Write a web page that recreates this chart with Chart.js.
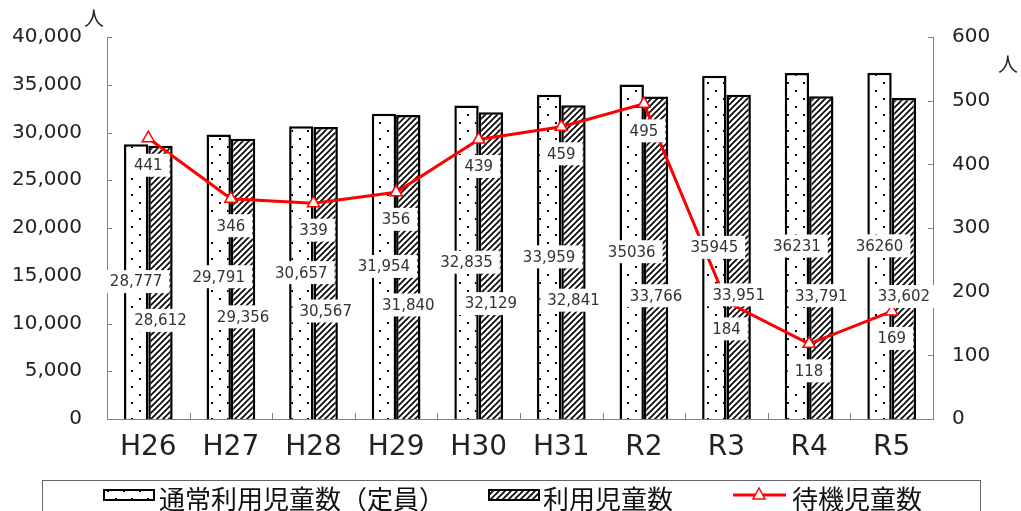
<!DOCTYPE html>
<html><head><meta charset="utf-8">
<script src="https://cdn.jsdelivr.net/npm/chart.js@4/dist/chart.umd.min.js"></script>
<style>html,body{margin:0;padding:0;background:#fff;}#wrap{width:1021px;height:511px;}</style>
</head><body><div id="wrap"><canvas id="c" width="1021" height="511"></canvas></div>
<script>
const categories = ['H26','H27','H28','H29','H30','H31','R2','R3','R4','R5'];
const capacity = [28777,29791,30657,31954,32835,33959,35036,35945,36231,36260];
const capacityLabels = ['28,777','29,791','30,657','31,954','32,835','33,959','35036','35945','36231','36260'];
const users = [28612,29356,30567,31840,32129,32841,33766,33951,33791,33602];
const waiting = [441,346,339,356,439,459,495,184,118,169];
const leftTicks = [0,5000,10000,15000,20000,25000,30000,35000,40000];
const rightTicks = [0,100,200,300,400,500,600];
const seriesNames = ['通常利用児童数（定員）','利用児童数','待機児童数'];

function dotPattern(){
  const c=document.createElement('canvas');c.width=16;c.height=16;
  const x=c.getContext('2d');x.fillStyle='#fff';x.fillRect(0,0,16,16);
  x.fillStyle='#000';x.fillRect(3,2,2,2);x.fillRect(11,10,2,2);
  return x.createPattern(c,'repeat');
}
function hatchPattern(){
  const c=document.createElement('canvas');c.width=6;c.height=6;
  const x=c.getContext('2d');x.fillStyle='#fff';x.fillRect(0,0,6,6);
  x.strokeStyle='#000';x.lineWidth=1.6;
  x.beginPath();x.moveTo(-1,7);x.lineTo(7,-1);x.moveTo(-4,4);x.lineTo(4,-4);x.moveTo(2,10);x.lineTo(10,2);x.stroke();
  return x.createPattern(c,'repeat');
}
const ctx0=document.getElementById('c').getContext('2d');
const dots=dotPattern(), hatch=hatchPattern();
const NUMFONT='"DejaVu Sans", sans-serif';
const JPFONT='"Noto Sans CJK JP", sans-serif';

const extras = {
  id:'extras',
  afterDatasetsDraw(chart){
    const c=chart.ctx;
    const ys=chart.scales.y, y2=chart.scales.y2, ca=chart.chartArea;
    c.save();
    // inward ticks
    c.strokeStyle='#808080';c.lineWidth=1;
    c.beginPath();
    leftTicks.forEach(v=>{const y=Math.round(ys.getPixelForValue(v))+0.5;c.moveTo(ca.left,y);c.lineTo(ca.left+5,y);});
    rightTicks.forEach(v=>{const y=Math.round(y2.getPixelForValue(v))+0.5;c.moveTo(ca.right-5,y);c.lineTo(ca.right,y);});
    const step=(ca.right-ca.left)/categories.length;
    for(let i=1;i<categories.length;i++){const x=Math.round(ca.left+step*i)+0.5;c.moveTo(x,ca.bottom);c.lineTo(x,ca.bottom-6);}
    c.stroke();
    // labels
    c.font='15px '+NUMFONT;c.textAlign='center';c.textBaseline='middle';
    function box(txt,x,y){
      const w=c.measureText(txt).width+14,h=23;
      c.fillStyle='#fff';c.fillRect(x-w/2,y-h/2,w,h);
      c.fillStyle='#333';c.fillText(txt,x,y+1);
    }
    const m0=chart.getDatasetMeta(0).data, m1=chart.getDatasetMeta(1).data, m2=chart.getDatasetMeta(2).data;
    m0.forEach((b,i)=>box(capacityLabels[i],b.x,(b.y+b.base)/2));
    m1.forEach((b,i)=>box(users[i].toLocaleString('en-US'),b.x,(b.y+b.base)/2+38));
    m2.forEach((p,i)=>box(String(waiting[i]),p.x,p.y+27));
    // unit labels
    c.fillStyle='#222';c.font='20px '+JPFONT;
    c.fillText('人',94,18);
    c.fillText('人',1008,64);
    // legend
    c.strokeStyle='#666';c.lineWidth=1;
    c.strokeRect(42.5,480.5,938,40);
    c.lineWidth=2;c.strokeStyle='#000';
    c.fillStyle=dots;c.fillRect(104,490,50,10);c.strokeRect(104,490,50,10);
    c.fillStyle=hatch;c.fillRect(489,490,50,10);c.strokeRect(489,490,50,10);
    c.strokeStyle='#ff0000';c.lineWidth=3;c.beginPath();c.moveTo(733,495);c.lineTo(786,495);c.stroke();
    c.lineWidth=1.5;c.fillStyle='#fff';c.beginPath();c.moveTo(759,488);c.lineTo(765,499);c.lineTo(753,499);c.closePath();c.fill();c.stroke();
    c.fillStyle='#111';c.font='26px '+JPFONT;c.textAlign='left';c.textBaseline='middle';
    c.fillText(seriesNames[0],159,499);
    c.fillText(seriesNames[1],543,499);
    c.fillText(seriesNames[2],792,499);
    c.restore();
  }
};

new Chart(ctx0,{
  type:'bar',
  data:{labels:categories,datasets:[
    {label:seriesNames[0],data:capacity,backgroundColor:dots,borderColor:'#000',borderWidth:2.5,yAxisID:'y',order:2,categoryPercentage:0.59,barPercentage:1.0},
    {label:seriesNames[1],data:users,backgroundColor:hatch,borderColor:'#000',borderWidth:2.5,yAxisID:'y',order:2,categoryPercentage:0.59,barPercentage:1.0},
    {type:'line',label:seriesNames[2],data:waiting,borderColor:'#ff0000',borderWidth:3,pointStyle:'triangle',pointRadius:7,pointBorderWidth:1.5,pointBorderColor:'#ff0000',pointBackgroundColor:'#fff',yAxisID:'y2',order:1,tension:0}
  ]},
  options:{
    responsive:false,animation:false,devicePixelRatio:1,
    layout:{padding:{top:34,bottom:0,left:0,right:0}},
    plugins:{legend:{display:false},tooltip:{enabled:false}},
    scales:{
      x:{grid:{display:false,drawTicks:false},border:{display:true,color:'#808080',width:1},
         ticks:{font:{family:NUMFONT,size:28},color:'#222',padding:12},
         afterFit(s){s.height=92;}},
      y:{position:'left',min:0,max:40000,afterBuildTicks(s){s.ticks=leftTicks.map(v=>({value:v}));},
         grid:{display:false,drawTicks:false},border:{display:true,color:'#808080',width:1},
         ticks:{font:{family:NUMFONT,size:20},color:'#222',padding:25,callback:v=>v.toLocaleString('en-US')},
         afterFit(s){s.width=107;}},
      y2:{position:'right',min:0,max:600,afterBuildTicks(s){s.ticks=rightTicks.map(v=>({value:v}));},
         grid:{display:false,drawTicks:false},border:{display:true,color:'#808080',width:1},
         ticks:{font:{family:NUMFONT,size:20},color:'#222',padding:19},
         afterFit(s){s.width=88;}}
    }
  },
  plugins:[extras]
});
</script></body></html>
